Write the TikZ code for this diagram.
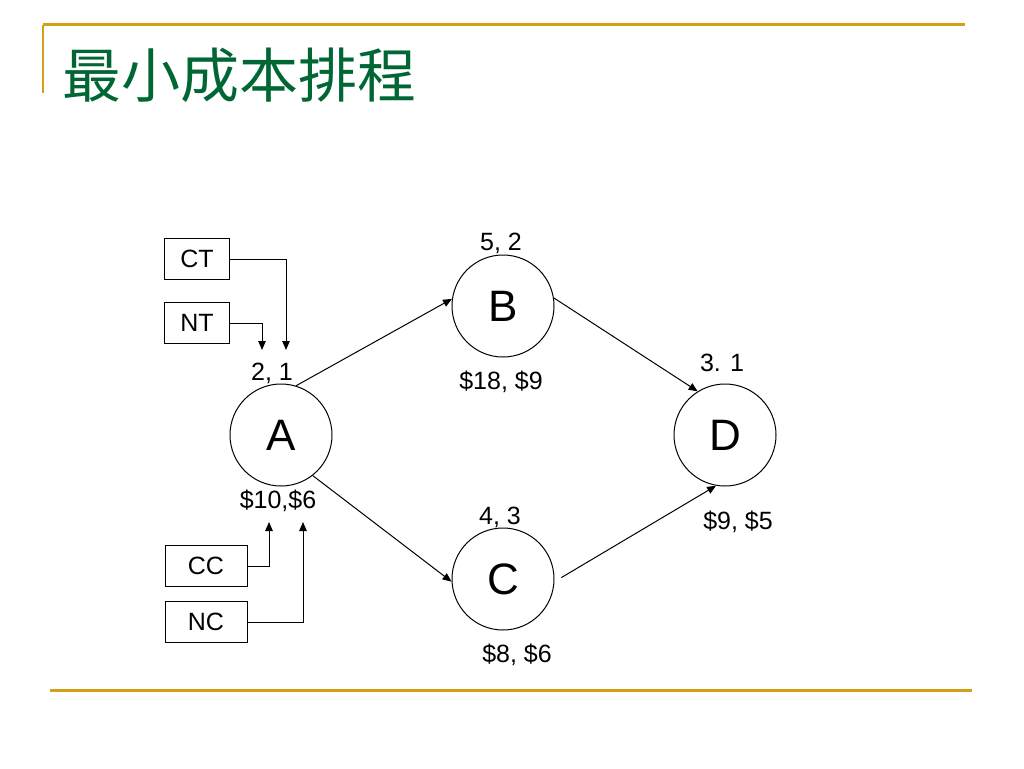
\documentclass[tikz,border=0pt]{standalone}
\usepackage{fontspec}
\setmainfont{Liberation Sans}
\newfontfamily\cjk{Noto Sans CJK TC}
\usetikzlibrary{arrows.meta,positioning}
\definecolor{rule}{RGB}{212,160,23}
\definecolor{ttl}{RGB}{0,102,51}
\tikzset{
  every picture/.append style={line width=1pt},
  every node/.append style={font=\fontsize{25}{29}\selectfont},
}
\tikzset{
  job/.style={draw, circle, minimum size=102pt, inner sep=0pt, font=\fontsize{44}{48}\selectfont},
  tag/.style={draw, minimum height=41pt, inner sep=0pt},
  arrow/.style={-{Triangle[length=9pt,width=7.5pt]}, line width=1pt}
}

\begin{document}
\begin{tikzpicture}[x=1pt, y=-1pt,
  val/.style={inner sep=0pt},
  band/.style={draw=rule, line width=3pt}
]
\useasboundingbox (0,0) rectangle (1024,768);

% frame and title
\draw[band] (43,25) -- (965,25);
\draw[draw=rule, line width=1.8pt] (43,25) -- (43,93);
\draw[band] (50,690) -- (972,690);
\node[anchor=west, inner sep=0pt, text=ttl, font=\cjk\fontsize{59}{64}\selectfont] (title) at (62,75) {最小成本排程};

% activities
\node[job] (A) at (281,435) {A};
\node[job] (B) at (503,306) {B};
\node[job] (C) at (503,579) {C};
\node[job] (D) at (725,435) {D};

% times and costs
\node[val] (At) at (272,373) {2, 1};
\node[val] (Ac) at (278,501) {\$10,\$6};
\node[val] (Bt) at (501,243) {5, 2};
\node[val] (Bc) at (501,382) {\$18, \$9};
\node[val] (Ct) at (500,517) {4, 3};
\node[val] (Cc) at (517,655) {\$8, \$6};
\node[val] (Dt) at (722,363) {3. 1};
\node[val] (Dc) at (738,522) {\$9, \$5};

% legend boxes
\node[tag, minimum width=65pt] (CT) at (197,259) {CT};
\node[tag, minimum width=65pt] (NT) at (197,323) {NT};
\node[tag, minimum width=82pt] (CC) at (206,566) {CC};
\node[tag, minimum width=82pt] (NC) at (206,622) {NC};

\coordinate (ctEnd) at (286,350);
\coordinate (ntEnd) at (262,350);
\coordinate (ccEnd) at (269,522);
\coordinate (ncEnd) at (303,522);

\draw[arrow] (CT.east) -| (ctEnd);
\draw[arrow] (NT.east) -| (ntEnd);
\draw[arrow] (CC.east) -| (ccEnd);
\draw[arrow] (NC.east) -| (ncEnd);

% precedence
\draw[arrow] (A.73) -- (B.172);
\draw[arrow] (A.-52) -- (C.183);
\draw[arrow] (B.9) -- (D.122);
\draw[arrow, shorten <=8pt] (C.-3) -- (D.260);

\end{tikzpicture}
\end{document}
